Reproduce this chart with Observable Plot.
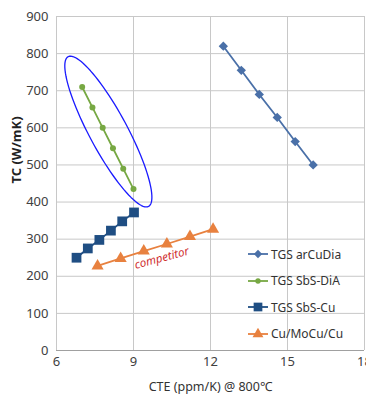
<!DOCTYPE html>
<html><head><meta charset="utf-8">
<script src="https://cdn.jsdelivr.net/npm/d3@7"></script>
<script src="https://cdn.jsdelivr.net/npm/@observablehq/plot@0.6"></script>
<style>
body{margin:0;background:#fff;font-family:"Noto Sans",sans-serif;}
#wrap{position:relative;width:366px;height:403px;overflow:hidden;}
#legend{position:absolute;left:247px;top:241px;font-size:12px;color:#333;}
.li{display:flex;align-items:center;height:26.5px;}
.li svg{margin-right:2px;}
</style></head><body>
<div id="wrap"><div id="legend"></div></div>
<script>
const seriesNames = ["TGS arCuDia","TGS SbS-DiA","TGS SbS-Cu","Cu/MoCu/Cu"];
const colors = ["#4a70a8","#77a843","#1f4e83","#e8813f"];
const symbols = ["diamond2","circle","square","triangle"];
const symSizes = [4.2,3,5.5,4.5];

const arCuDiaX = [12.5,13.2,13.9,14.6,15.3,16.0];
const arCuDiaY = [820,755,690,628,563,500];
const sbsDiaX = [7.0,7.4,7.8,8.2,8.6,9.0];
const sbsDiaY = [710,655,600,545,490,435];
const sbsCuX = [6.78,7.22,7.67,8.12,8.56,9.02];
const sbsCuY = [250,275,298,323,348,372];
const moCuX = [7.6,8.5,9.4,10.3,11.2,12.1];
const moCuY = [228,248,268,287,307,327];

const xTicks = [6,9,12,15,18];
const yTicks = [0,100,200,300,400,500,600,700,800,900];

const allX = [arCuDiaX,sbsDiaX,sbsCuX,moCuX];
const allY = [arCuDiaY,sbsDiaY,sbsCuY,moCuY];
const data = [];
allX.forEach((xs,si)=>xs.forEach((x,i)=>data.push({s:seriesNames[si],x,y:allY[si][i]})));

const W=366,H=403,ml=56,mr=2,mt=16,mb=53;
const kx=(W-ml-mr)/12, ky=(H-mt-mb)/900;
// annotation ellipse (pixel radii, converted to data units)
const ell={cx:8.02,cy:590,a:85,b:19,ux:0.473,uy:0.881};
const ellipse=d3.range(0,101).map(i=>{
  const t=i/100*2*Math.PI;
  const dxp=ell.a*Math.cos(t)*ell.ux - ell.b*Math.sin(t)*ell.uy;
  const dyp=ell.a*Math.cos(t)*ell.uy + ell.b*Math.sin(t)*ell.ux;
  return {x:ell.cx+dxp/kx, y:ell.cy-dyp/ky};
});

const chart = Plot.plot({
  width:W,height:H,marginLeft:ml,marginRight:mr,marginTop:mt,marginBottom:mb,
  style:{fontFamily:"Noto Sans, sans-serif",fontSize:"12px",color:"#404040",background:"#fff"},
  x:{domain:[6,18],ticks:xTicks,label:null,tickSize:0,tickPadding:6},
  y:{domain:[0,900],ticks:yTicks,label:null,tickSize:0,tickPadding:8},
  marks:[
    Plot.gridX(xTicks,{stroke:"#c8c8c8",strokeOpacity:1}),
    Plot.gridY(yTicks,{stroke:"#c8c8c8",strokeOpacity:1}),
    Plot.ruleY([0],{stroke:"#a0a0a0"}),
    Plot.axisX({ticks:xTicks,tickSize:0,tickPadding:6,fontSize:13,label:null}),
    Plot.axisY({ticks:yTicks,tickSize:0,tickPadding:8,fontSize:13,label:null}),
    ...seriesNames.map((n,i)=>Plot.line(data.filter(d=>d.s===n),{x:"x",y:"y",stroke:colors[i],strokeWidth:1.8})),
    ...seriesNames.map((n,i)=>Plot.dot(data.filter(d=>d.s===n),{x:"x",y:"y",fill:colors[i],symbol:symbols[i],r:symSizes[i]})),
    Plot.line(ellipse,{x:"x",y:"y",stroke:"#1a1aff",strokeWidth:1.3}),
    Plot.text(["competitor"],{x:10.1,y:249,text:d=>d,rotate:-15,fill:"#d03030",fontStyle:"italic",fontSize:11.5}),
    Plot.text(["CTE (ppm/K) @ 800℃"],{frameAnchor:"bottom",dy:40,text:d=>d,fill:"#333",fontSize:12.5}),
    Plot.text(["TC (W/mK)"],{frameAnchor:"left",dx:-40,rotate:-90,text:d=>d,fill:"#222",fontWeight:"bold",fontSize:13})
  ]
});
document.getElementById("wrap").prepend(chart);

const leg=document.getElementById("legend");
seriesNames.forEach((n,i)=>{
  const row=document.createElement("div");row.className="li";
  const s=d3.create("svg").attr("width",22).attr("height",12);
  s.append("line").attr("x1",1).attr("x2",21).attr("y1",6).attr("y2",6).attr("stroke",colors[i]).attr("stroke-width",1.8);
  const sym={diamond2:d3.symbolDiamond2,circle:d3.symbolCircle,square:d3.symbolSquare,triangle:d3.symbolTriangle}[symbols[i]];
  s.append("path").attr("transform","translate(11,6)").attr("d",d3.symbol(sym, Math.PI*symSizes[i]*symSizes[i]*0.8)()).attr("fill",colors[i]);
  row.appendChild(s.node());
  const t=document.createElement("span");t.textContent=n;row.appendChild(t);
  leg.appendChild(row);
});
</script></body></html>
